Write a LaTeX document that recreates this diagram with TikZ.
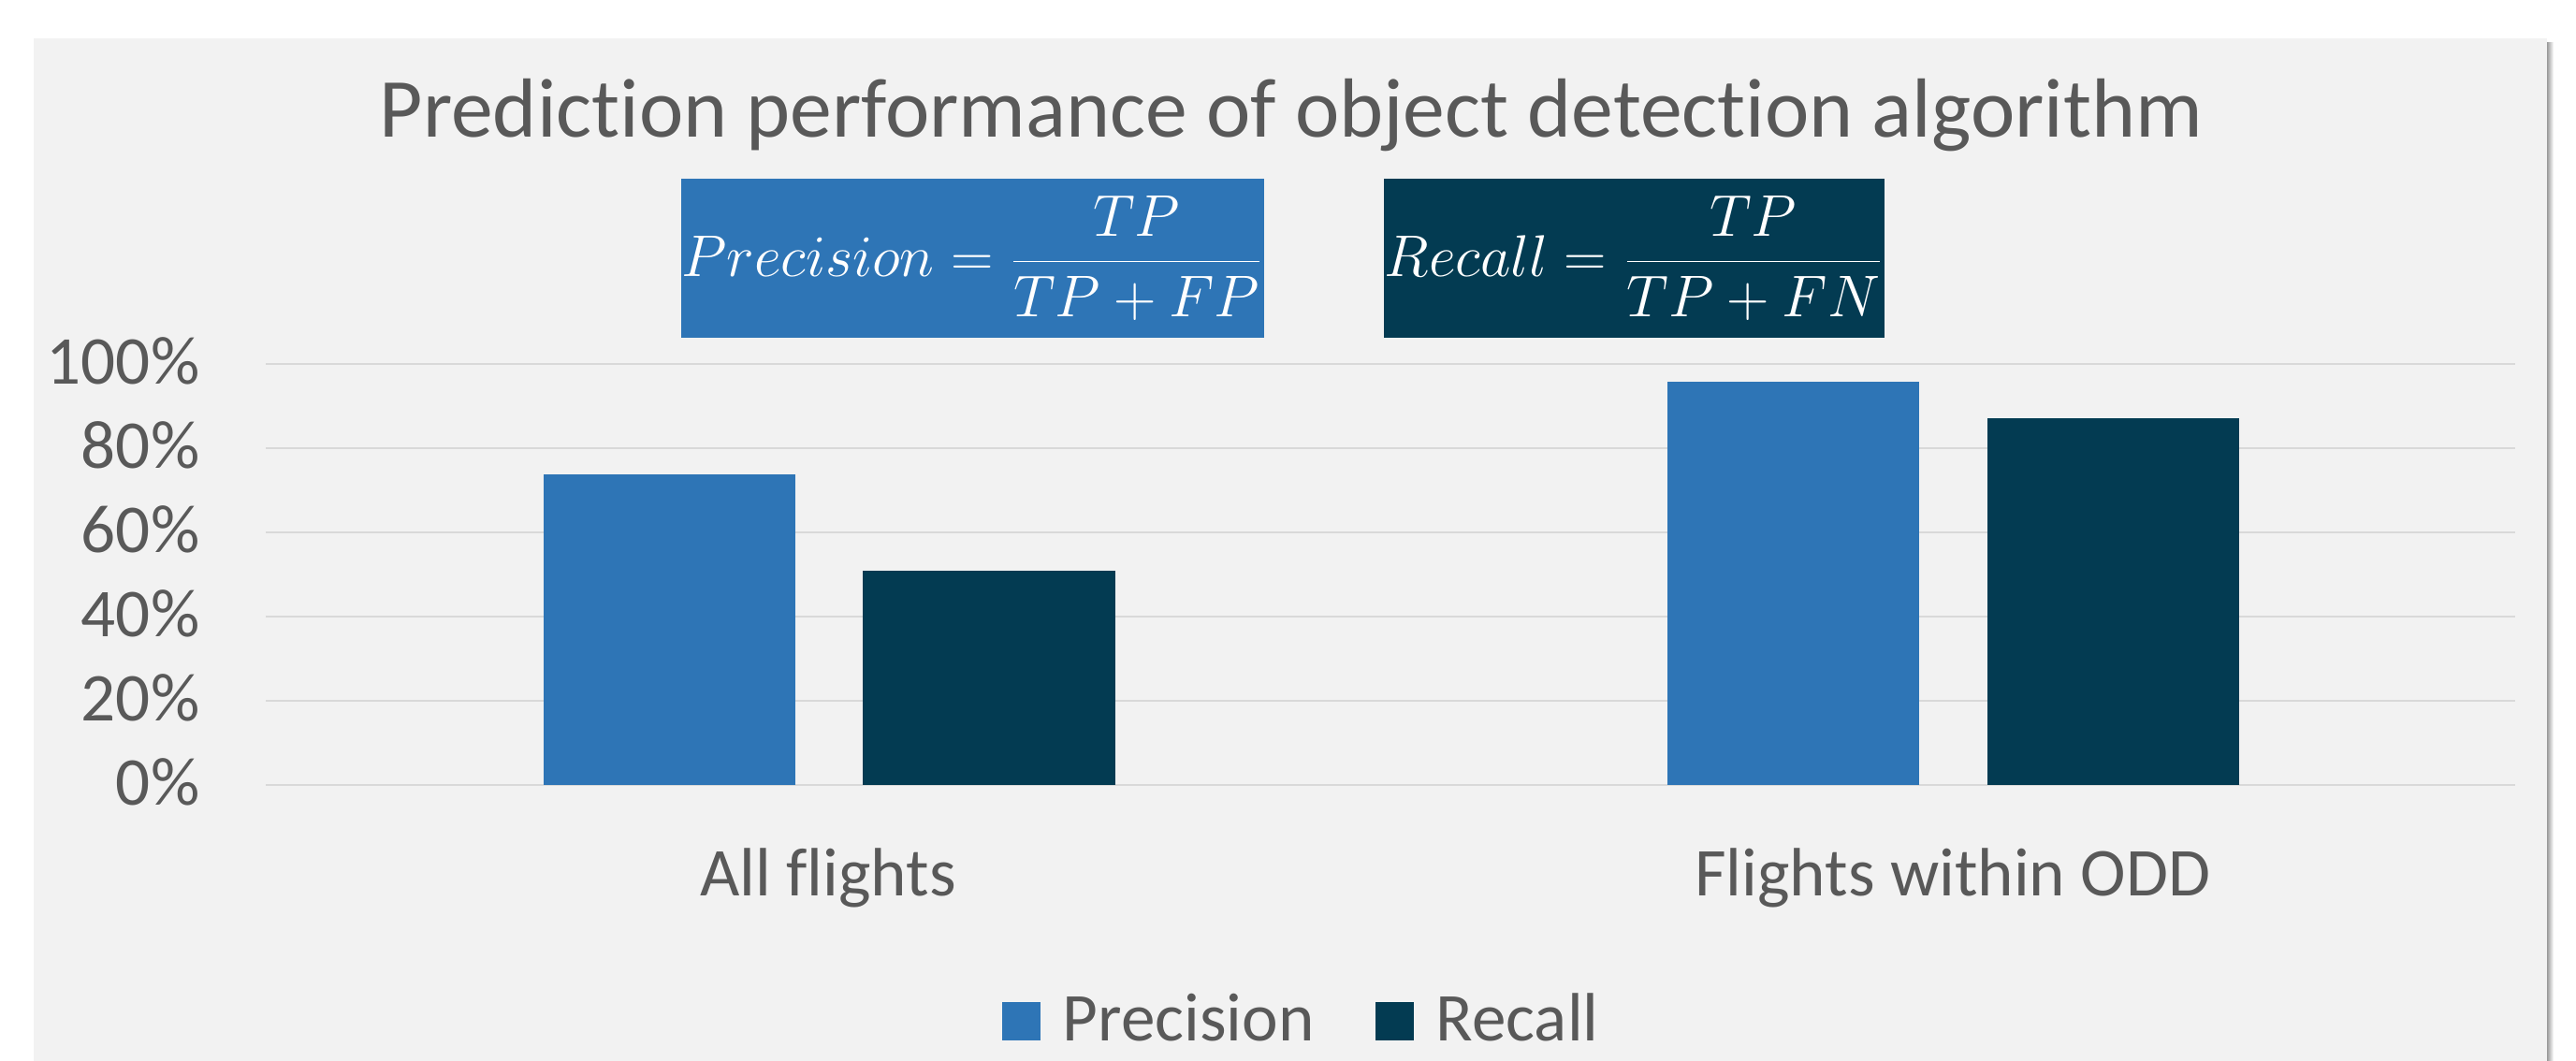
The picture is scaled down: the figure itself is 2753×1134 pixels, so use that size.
\documentclass[tikz,border=0pt]{standalone}
\usepackage{fix-cm}
\usepackage[no-math]{fontspec}
\setmainfont{Carlito}[Ligatures=NoCommon]
\definecolor{precblue}{HTML}{2E75B6}
\definecolor{recdark}{HTML}{033B52}
\definecolor{txtgray}{HTML}{595959}
\definecolor{panelbg}{HTML}{F2F2F2}
\definecolor{gridc}{HTML}{D9D9D9}
\begin{document}
\begin{tikzpicture}[x=0.01cm,y=-0.01cm,
  lbl/.style={inner sep=0pt, text=txtgray, font=\fontsize{20.8pt}{25pt}\selectfont},
  ttl/.style={inner sep=0pt, text=txtgray, font=\fontsize{25.5pt}{31pt}\selectfont},
  gline/.style={draw=gridc, line width=0.6pt},
  fbox/.style={inner sep=0pt, text=white, font=\fontsize{17.9pt}{21pt}\selectfont},
  precfill/.style={fill=precblue},
  recfill/.style={fill=recdark}]
\useasboundingbox (0,0) rectangle (2753,1134);
\fill[white] (0,0) rectangle (2753,1134);
% panel and its right shadow
\fill[left color=black!40, right color=white] (2722,46) rectangle (2729,1134);
\fill[panelbg] (36,41) rectangle (2722,1134);
% title
\node[ttl, anchor=base] (title) at (1380,147) {Prediction performance of object detection algorithm};
% formula boxes
\node[fbox, precfill, minimum width=6.21cm, minimum height=1.70cm] (precbox) at (1039.5,276)
  {$\displaystyle Precision=\frac{TP}{TP+FP}$};
\node[fbox, recfill, minimum width=5.35cm, minimum height=1.70cm] (recbox) at (1746.5,276)
  {$\displaystyle Recall=\frac{TP}{TP+FN}$};
% grid lines and y labels
\foreach \v/\t in {0/0\%,1/20\%,2/40\%,3/60\%,4/80\%,5/100\%}{
  \draw[gline] (284,{839-90*\v}) -- (2688,{839-90*\v});
  \node[lbl, anchor=base east] (ylab\v) at (214,{839-90*\v+22}) {\t};
}
% bars
\fill[precfill] (581,507) rectangle (850,839);
\fill[recfill] (922,610) rectangle (1192,839);
\fill[precfill] (1782,408) rectangle (2051,839);
\fill[recfill] (2124,447) rectangle (2393,839);
% category labels
\node[lbl, anchor=base] (catall) at (885,958) {All flights};
\node[lbl, anchor=base] (catodd) at (2087,958) {Flights within ODD};
% legend
\fill[precfill] (1071,1071) rectangle (1112,1112);
\node[lbl, anchor=base west] (legprec) at (1135,1113) {Precision};
\fill[recfill] (1470,1071) rectangle (1511,1112);
\node[lbl, anchor=base west] (legrec) at (1534,1113) {Recall};
\end{tikzpicture}
\end{document}
